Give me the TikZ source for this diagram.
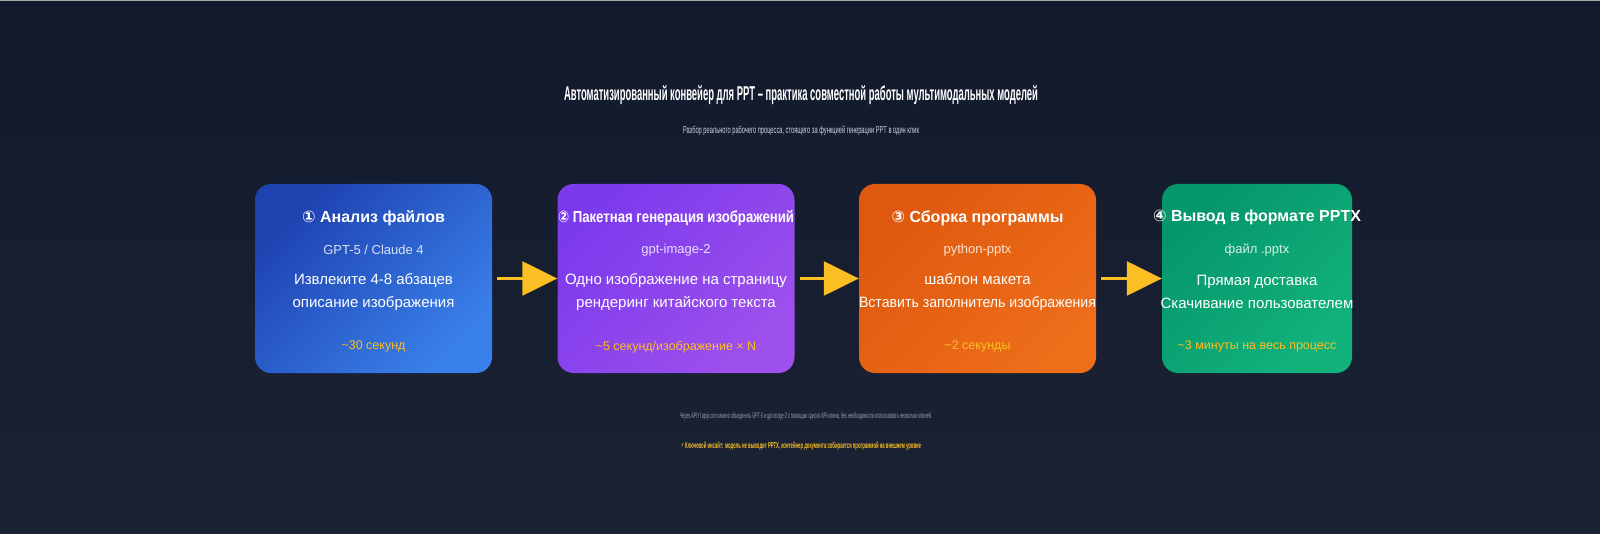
\documentclass[tikz,border=0pt]{standalone}
\usepackage{fontspec}
\setmainfont{Liberation Sans}
\newfontfamily\symfont{DejaVu Sans}
\usetikzlibrary{arrows.meta,calc,positioning}

\definecolor{bgtop}{HTML}{111A2D}
\definecolor{bgbot}{HTML}{1B2233}
\definecolor{amber}{HTML}{FBBF24}
\definecolor{noteGray}{HTML}{94A3B8}
\definecolor{subGray}{HTML}{CBD5E1}
\definecolor{blueA}{HTML}{1E42B0}\definecolor{blueB}{HTML}{3A80EA}
\definecolor{violA}{HTML}{7C3AED}\definecolor{violB}{HTML}{9D50EC}
\definecolor{orngA}{HTML}{DE580E}\definecolor{orngB}{HTML}{EE6E1A}
\definecolor{grnA}{HTML}{05966A}\definecolor{grnB}{HTML}{12B27D}

\tikzset{
  stagebox/.style={rounded corners=16pt, minimum width=237pt, minimum height=189pt, inner sep=0pt},
  stagetitle/.style={text=white, inner sep=0pt, font=\fontsize{16}{18}\selectfont\bfseries},
  stagetool/.style={text=white, text opacity=0.82, inner sep=0pt, font=\fontsize{13}{15}\selectfont},
  stagetext/.style={text=white, inner sep=0pt, align=center, font=\fontsize{15}{23}\selectfont},
  stagetime/.style={text=amber, inner sep=0pt, font=\fontsize{12.5}{14}\selectfont},
  flowarrow/.style={draw=amber, line width=2.5pt, -{Triangle[length=35pt,width=34pt]}},
}

\begin{document}
\begin{tikzpicture}[x=1pt,y=-1pt]
\useasboundingbox (0,0) rectangle (1600,534);
\shade[top color=bgtop, bottom color=bgbot] (0,0) rectangle (1600,534);
\draw[gray!70, line width=1pt] (0,0.5) -- (1600,0.5);

% heading
\node[text=white, inner sep=0pt, font=\fontsize{20}{22}\selectfont\bfseries] (title) at (801,95)
  {\resizebox{474pt}{\height}{Автоматизированный конвейер для PPT – практика совместной работы мультимодальных моделей}};
\node[text=subGray, inner sep=0pt, font=\fontsize{10}{12}\selectfont] (subtitle) at (801,131)
  {\resizebox{236pt}{\height}{Разбор реального рабочего процесса, стоящего за функцией генерации PPT в один клик}};

% stages
\node[stagebox, top color=blueA, bottom color=blueB, shading angle=45] (s1) at (373.5,278.5) {};
\node[stagebox, top color=violA, bottom color=violB, shading angle=45] (s2) at (676,278.5) {};
\node[stagebox, top color=orngA, bottom color=orngB, shading angle=45] (s3) at (977.5,278.5) {};
\node[stagebox, minimum width=190pt, top color=grnA, bottom color=grnB, shading angle=45] (s4) at (1257,278.5) {};

\node[stagetitle] (t1) at ($(s1.north)+(0,34)$) {{\symfont ①} Анализ файлов};
\node[stagetool] (m1) at ($(s1.north)+(0,66)$) {GPT-5 / Claude 4};
\node[stagetext] (d1) at ($(s1.north)+(0,108)$) {Извлеките 4-8 абзацев\\описание изображения};
\node[stagetime] (w1) at ($(s1.north)+(0,163)$) {\textasciitilde30 секунд};

\node[stagetitle] (t2) at ($(s2.north)+(0,34)$) {\resizebox{236pt}{\height}{{\symfont ②} Пакетная генерация изображений}};
\node[stagetool] (m2) at ($(s2.north)+(0,66)$) {gpt-image-2};
\node[stagetext] (d2) at ($(s2.north)+(0,108)$) {Одно изображение на страницу\\рендеринг китайского текста};
\node[stagetime] (w2) at ($(s2.north)+(0,163)$) {\textasciitilde5 секунд/изображение × N};

\node[stagetitle] (t3) at ($(s3.north)+(0,34)$) {{\symfont ③} Сборка программы};
\node[stagetool] (m3) at ($(s3.north)+(0,66)$) {python-pptx};
\node[stagetext] (d3) at ($(s3.north)+(0,108)$) {шаблон макета\\\resizebox{237pt}{\height}{Вставить заполнитель изображения}};
\node[stagetime] (w3) at ($(s3.north)+(0,163)$) {\textasciitilde2 секунды};

\node[stagetitle] (t4) at ($(s4.north)+(0,34)$) {{\symfont ④} Вывод в формате PPTX};
\node[stagetool] (m4) at ($(s4.north)+(0,66)$) {файл .pptx};
\node[stagetext] (d4) at ($(s4.north)+(0,108)$) {Прямая доставка\\Скачивание пользователем};
\node[stagetime] (w4) at ($(s4.north)+(0,163)$) {\textasciitilde3 минуты на весь процесс};

% arrows
\foreach \a/\b in {s1/s2,s2/s3,s3/s4}
  \draw[flowarrow] ([xshift=5pt]\a.east) -- (\b.west);

% notes
\node[text=noteGray, inner sep=0pt, font=\fontsize{8}{10}\selectfont] (note) at (806,416)
  {\resizebox{252pt}{\height}{Через APIYI apiyi.com можно объединить GPT-5 и gpt-image-2 с помощью одного API-ключа, без необходимости использовать несколько ключей.}};
\node[text=amber, inner sep=0pt, font=\fontsize{8.5}{10}\selectfont\bfseries] (insight) at (801,446)
  {\resizebox{240pt}{\height}{{\symfont ⚡} Ключевой инсайт: модель не выводит PPTX, контейнер документа собирается программой на внешнем уровне}};
\end{tikzpicture}
\end{document}
